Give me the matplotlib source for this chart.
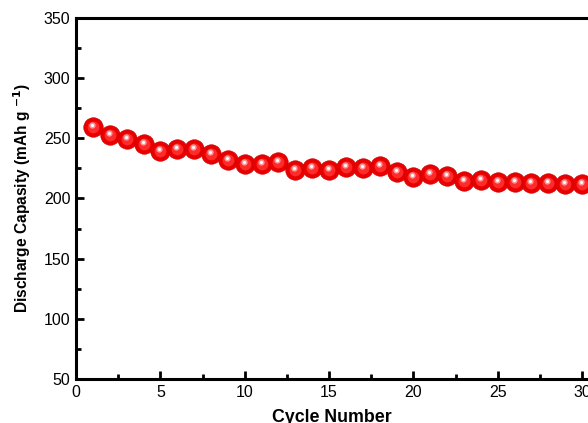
import matplotlib.pyplot as plt
from matplotlib.ticker import MultipleLocator
from matplotlib.transforms import ScaledTranslation

plt.rcParams['font.family'] = ['Liberation Sans', 'DejaVu Sans']

cycles = list(range(1, 31))
capacity = [259, 253, 249.5, 245, 239.5, 241, 241, 237, 232, 229,
            229, 230, 224, 225, 224, 226, 225, 227, 222, 218,
            220, 219, 214.6, 215, 214, 214, 213, 213, 212, 212]

fig = plt.figure(figsize=(5.88, 4.23), dpi=100)
ax = fig.add_axes([0.1293, 0.104, 0.8707, 0.8536])

# sphere-looking markers: red ball + lighter core + white highlight
shift = ax.transData + ScaledTranslation(-1/100, 2/100, fig.dpi_scale_trans)
ax.plot(cycles, capacity, 'o', ms=14, mfc='#e80000', mec='#d00000', mew=0.5, zorder=3)
ax.plot(cycles, capacity, 'o', ms=8.5, mfc='#ff2a2a', mec='none', zorder=4)
ax.plot(cycles, capacity, 'o', ms=4.5, mfc='#ff9a9a', mec='none', zorder=5, transform=shift)
ax.plot(cycles, capacity, 'o', ms=2.2, mfc='white', mec='none', zorder=6, transform=shift)

ax.set_xlim(0, 30.35)
ax.set_ylim(50, 350)
ax.xaxis.set_major_locator(MultipleLocator(5))
ax.xaxis.set_minor_locator(MultipleLocator(2.5))
ax.yaxis.set_major_locator(MultipleLocator(50))
ax.yaxis.set_minor_locator(MultipleLocator(25))

for s in ax.spines.values():
    s.set_linewidth(2.2)
ax.spines['right'].set_visible(False)
ax.tick_params(which='both', direction='in', width=2, labelsize=11.5, top=False, right=False)
ax.tick_params(which='major', length=6, pad=4)
ax.tick_params(which='minor', length=3.5)

ax.set_xlabel('Cycle Number', fontsize=12.8, fontweight='bold', labelpad=7)
ax.set_ylabel('Discharge Capasity (mAh g $^{\\mathbf{-1}}$)', fontsize=11.2, fontweight='bold', labelpad=8)

fig.savefig('out.png', dpi=100)
